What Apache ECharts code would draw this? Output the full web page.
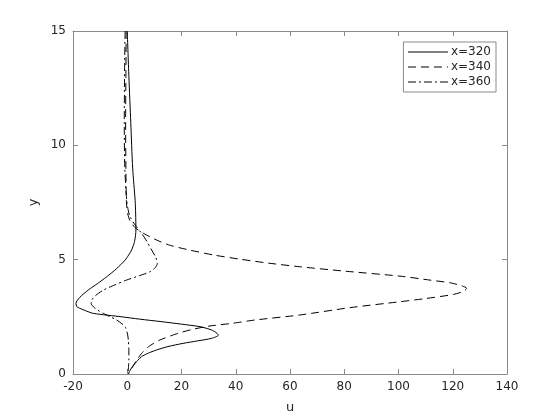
<!DOCTYPE html>
<html>
<head>
<meta charset="utf-8">
<script src="https://cdn.jsdelivr.net/npm/echarts@6/dist/echarts.min.js"></script>
<style>
  html, body { margin: 0; padding: 0; background: #fff; }
  #chart { width: 560px; height: 420px; }
</style>
</head>
<body>
<div id="chart"></div>
<script>
// profiles u(y) at three stations
var names = ['x=320', 'x=340', 'x=360'];

var y320 = [15, 13, 11, 9, 7.6, 7, 6.3, 5.8, 5.42, 5.2, 4.98, 4.6, 4.25, 3.95, 3.67, 3.35, 3.09, 2.95, 2.87, 2.75, 2.65, 2.5, 2.4, 2.29, 2.18, 2.07, 1.95, 1.85, 1.7, 1.56, 1.45, 1.34, 1.2, 1.05, 0.9, 0.76, 0.6, 0.47, 0.3, 0.15, 0];
var u320 = [0.0, 0.6, 1.3, 2.0, 2.9, 3.1, 3.2, 2.7, 1.6, 0.5, -0.8, -4, -7.6, -11, -14.4, -17.5, -18.9, -18.6, -17.4, -15, -12.5, -2, 4.5, 12.5, 20, 26.8, 30.5, 32.3, 33.6, 31.1, 26, 20.6, 15, 10.8, 7.5, 5.3, 3.9, 2.9, 1.8, 1.0, 0.4];

var y340 = [15, 13, 11, 9, 7.5, 7, 6.7, 6.4, 6.15, 5.86, 5.62, 5.42, 5.2, 5.02, 4.85, 4.69, 4.5, 4.28, 4.1, 3.99, 3.85, 3.75, 3.62, 3.48, 3.3, 3.16, 2.9, 2.58, 2.36, 2.22, 2.1, 1.95, 1.78, 1.49, 1.19, 0.9, 0.61, 0.32, 0.15, 0];
var u340 = [-0.4, -0.5, -0.6, -0.5, -0.3, 0.2, 1.0, 2.9, 6, 10.8, 16, 23, 32, 41.6, 52, 63.6, 80, 100.5, 112, 119, 123.5, 125.1, 124, 120.2, 110, 100.5, 82, 63.6, 47, 39, 30.5, 24, 18.8, 12.1, 7.8, 5.3, 3.5, 2.0, 1.1, 0.4];

var y360 = [15, 13, 11, 9, 7.6, 7.2, 6.88, 6.5, 6.15, 5.8, 5.42, 5.1, 4.84, 4.65, 4.47, 4.3, 4.11, 3.9, 3.67, 3.45, 3.24, 3.08, 2.94, 2.8, 2.65, 2.5, 2.36, 2.2, 2.07, 1.8, 1.49, 1.0, 0.61, 0.22, 0];
var u360 = [-0.8, -1.0, -1.1, -0.9, -0.2, 0.3, 1.0, 3.0, 5.3, 7.2, 9.0, 10.5, 11.1, 10.3, 8.4, 4.5, -0.2, -4.5, -8.8, -11.5, -13.1, -13.3, -12.5, -11, -8.8, -6.2, -3.9, -2, -0.8, 0, 0.4, 0.6, 0.6, 0.4, 0.2];

var xTicks = [-20, 0, 20, 40, 60, 80, 100, 120, 140];
var yTicks = [0, 5, 10, 15];

function pairs(us, ys) {
  var out = [];
  for (var i = 0; i < us.length; ++i) {
    out.push([us[i], ys[i]]);
  }
  return out;
}

var axisGray = '#8a8a8a';
var textColor = '#262626';
var font = 'DejaVu Sans';

function boxAxis(pos, ticks, showLabels, name) {
  return {
    type: 'value',
    position: pos,
    min: ticks[0],
    max: ticks[ticks.length - 1],
    interval: ticks[1] - ticks[0],
    name: name || '',
    nameLocation: 'middle',
    nameGap: (pos === 'left') ? 30 : 27,
    nameTextStyle: { color: textColor, fontSize: 13, fontFamily: font },
    axisLine: { show: true, onZero: false, lineStyle: { color: axisGray, width: 1 } },
    axisTick: { show: true, inside: true, length: 5, lineStyle: { color: axisGray } },
    axisLabel: { show: showLabels, color: textColor, fontSize: 12, fontFamily: font, margin: 7 },
    splitLine: { show: false }
  };
}

var chart = echarts.init(document.getElementById('chart'), null, { renderer: 'canvas' });

var dashes = ['solid', [8, 5], [8, 3, 2, 3]];
var data = [pairs(u320, y320), pairs(u340, y340), pairs(u360, y360)];

var series = [];
for (var k = 0; k < names.length; ++k) {
  series.push({
    name: names[k],
    type: 'line',
    data: data[k],
    symbol: 'none',
    smooth: 0.25,
    lineStyle: { color: '#000', width: 1, type: dashes[k] },
    itemStyle: { color: '#000' }
  });
}

var option = {
  animation: false,
  backgroundColor: '#fff',
  grid: { left: 73, right: 53, top: 31, bottom: 46, containLabel: false },
  legend: {
    orient: 'vertical',
    right: 64,
    top: 42,
    padding: [4, 5, 4, 4],
    itemGap: 3,
    itemWidth: 40,
    itemHeight: 10,
    borderColor: axisGray,
    borderWidth: 1,
    backgroundColor: '#fff',
    itemStyle: { opacity: 0 },
    lineStyle: { width: 1 },
    textStyle: { color: textColor, fontSize: 12, fontFamily: font, padding: [0, 0, 0, -2] },
    data: names
  },
  xAxis: [
    boxAxis('bottom', xTicks, true, 'u'),
    boxAxis('top', xTicks, false)
  ],
  yAxis: [
    boxAxis('left', yTicks, true, 'y'),
    boxAxis('right', yTicks, false)
  ],
  series: series
};

chart.setOption(option);
</script>
</body>
</html>
